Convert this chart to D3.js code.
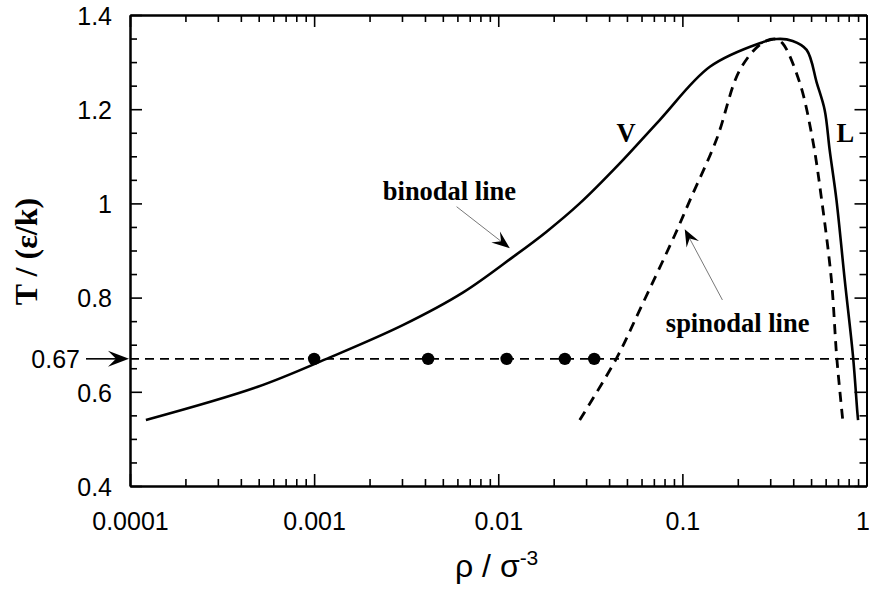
<!DOCTYPE html>
<html>
<head>
<meta charset="utf-8">
<script src="https://cdn.jsdelivr.net/npm/d3@7"></script>
<style>
  html, body { margin: 0; padding: 0; background: #fff; }
  svg { display: block; }
</style>
</head>
<body>
<svg id="chart" width="869" height="589"></svg>
<script>
// ---------------- data ----------------
const xMajor = [0.0001, 0.001, 0.01, 0.1, 1];
const xTickLabels = ["0.0001", "0.001", "0.01", "0.1", "1"];
const yMajor = [0.4, 0.6, 0.8, 1.0, 1.2, 1.4];
const yTickLabels = ["0.4", "0.6", "0.8", "1", "1.2", "1.4"];

// binodal (coexistence) curve: vapour branch -> critical point -> liquid branch
const binodalRho = [0.000122, 0.00049, 0.00122, 0.00305, 0.00645, 0.0121, 0.0183, 0.0277, 0.0457, 0.0753, 0.141, 0.263, 0.326, 0.397, 0.473, 0.537, 0.593, 0.631, 0.687, 0.762, 0.845, 0.893, 0.90];
const binodalT   = [0.540,    0.610,   0.673,   0.742,   0.811,   0.887,  0.940,  1.000,  1.085,  1.177,  1.290, 1.340, 1.349, 1.345, 1.326, 1.256, 1.198, 1.113, 1.007, 0.837, 0.675, 0.554, 0.540];

// spinodal curve
const spinodalRho = [0.0277, 0.044, 0.0587, 0.091, 0.110, 0.153, 0.205, 0.27, 0.32, 0.35, 0.434, 0.51, 0.571, 0.645, 0.689, 0.743];
const spinodalT   = [0.540,  0.672, 0.774,  0.933, 1.007, 1.135, 1.283, 1.340, 1.349, 1.340, 1.256, 1.135, 1.007, 0.837, 0.674, 0.540];

// isotherm T = 0.67 with state points
const isothermT = 0.67;
const dotRho = [0.001, 0.00416, 0.0111, 0.023, 0.0332];

// ---------------- layout ----------------
const svg = d3.select("#chart");
const W = 869, H = 589;
const m = { left: 130, right: 2.5, top: 15, bottom: 103 };

const x = d3.scaleLog().domain([0.0001, 1]).range([m.left, W - m.right]);
const y = d3.scaleLinear().domain([0.4, 1.4]).range([H - m.bottom, m.top]);

const xMinor = [];
[0.0001, 0.001, 0.01, 0.1].forEach(d => { for (let k = 2; k <= 9; k++) xMinor.push(k * d); });
const yMinor = [];
for (let i = 1; i < 20; i++) { if (i % 4 !== 0) yMinor.push(+(0.4 + i * 0.05).toFixed(2)); }

const tickFont = "'Liberation Sans', Arial, Helvetica, sans-serif";
const serif = "'Liberation Serif', 'Times New Roman', serif";

const MAJ = 12, MIN = 7;

function styleAxis(g) {
  g.select(".domain").attr("stroke", "#000").attr("stroke-width", 2);
  g.selectAll(".tick line").attr("stroke", "#000").attr("stroke-width", 1.6);
  g.selectAll("text").attr("fill", "#000").style("font-family", tickFont).style("font-size", "25px");
}

// bottom axis
const gx = svg.append("g").attr("transform", `translate(0,${y(0.4)})`)
  .call(d3.axisBottom(x).tickValues(xMajor).tickSize(-MAJ).tickSizeOuter(0).tickPadding(26)
    .tickFormat((d, i) => xTickLabels[i]));
styleAxis(gx);
// keep the rightmost label inside the window
gx.selectAll(".tick text").filter(d => d === 1).attr("x", -4);
svg.append("g").attr("transform", `translate(0,${y(0.4)})`)
  .call(d3.axisBottom(x).tickValues(xMinor).tickSize(-MIN).tickSizeOuter(0).tickFormat(""))
  .call(styleAxis);
// top axis
svg.append("g").attr("transform", `translate(0,${y(1.4)})`)
  .call(d3.axisTop(x).tickValues(xMajor).tickSize(-MAJ).tickSizeOuter(0).tickFormat(""))
  .call(styleAxis);
svg.append("g").attr("transform", `translate(0,${y(1.4)})`)
  .call(d3.axisTop(x).tickValues(xMinor).tickSize(-MIN).tickSizeOuter(0).tickFormat(""))
  .call(styleAxis);
// left axis
const gy = svg.append("g").attr("transform", `translate(${x(0.0001)},0)`)
  .call(d3.axisLeft(y).tickValues(yMajor).tickSize(-MAJ).tickSizeOuter(0).tickPadding(18)
    .tickFormat((d, i) => yTickLabels[i]));
styleAxis(gy);
gy.selectAll("text").attr("dy", "0.37em");
svg.append("g").attr("transform", `translate(${x(0.0001)},0)`)
  .call(d3.axisLeft(y).tickValues(yMinor).tickSize(-MIN).tickSizeOuter(0).tickFormat(""))
  .call(styleAxis);
// right axis
svg.append("g").attr("transform", `translate(${x(1)},0)`)
  .call(d3.axisRight(y).tickValues(yMajor).tickSize(-MAJ).tickSizeOuter(0).tickFormat(""))
  .call(styleAxis);
svg.append("g").attr("transform", `translate(${x(1)},0)`)
  .call(d3.axisRight(y).tickValues(yMinor).tickSize(-MIN).tickSizeOuter(0).tickFormat(""))
  .call(styleAxis);

// ---------------- isotherm ----------------
svg.append("line")
  .attr("x1", x(0.0001)).attr("x2", x(1))
  .attr("y1", y(isothermT)).attr("y2", y(isothermT))
  .attr("stroke", "#000").attr("stroke-width", 1.6)
  .attr("stroke-dasharray", "9,6");

// ---------------- curves ----------------
const line = d3.line().x(d => x(d[0])).y(d => y(d[1])).curve(d3.curveCatmullRom.alpha(0.5));

svg.append("path")
  .datum(binodalRho.map((r, i) => [r, binodalT[i]]))
  .attr("d", line).attr("fill", "none").attr("stroke", "#000").attr("stroke-width", 2.6)
  .attr("stroke-linejoin", "round");

svg.append("path")
  .datum(spinodalRho.map((r, i) => [r, spinodalT[i]]))
  .attr("d", line).attr("fill", "none").attr("stroke", "#000").attr("stroke-width", 2.8)
  .attr("stroke-dasharray", "10,7");

// state points
svg.selectAll("circle.dot").data(dotRho).enter().append("circle")
  .attr("class", "dot").attr("cx", d => x(d)).attr("cy", y(isothermT)).attr("r", 6.2)
  .attr("fill", "#000");

// ---------------- arrows ----------------
function arrow(x0, y0, x1, y1, L, Wd, lw, color) {
  const dx = x1 - x0, dy = y1 - y0, len = Math.hypot(dx, dy);
  const ux = dx / len, uy = dy / len, nx = -uy, ny = ux;
  const notch = L * 0.62;
  svg.append("line").attr("x1", x0).attr("y1", y0)
    .attr("x2", x1 - ux * notch).attr("y2", y1 - uy * notch)
    .attr("stroke", color).attr("stroke-width", lw);
  const p = [
    [x1, y1],
    [x1 - ux * L + nx * Wd, y1 - uy * L + ny * Wd],
    [x1 - ux * notch, y1 - uy * notch],
    [x1 - ux * L - nx * Wd, y1 - uy * L - ny * Wd]
  ];
  svg.append("path").attr("d", "M" + p.map(q => q.join(",")).join("L") + "Z").attr("fill", "#000");
}

// 0.67 marker arrow on the left
arrow(86, y(isothermT), x(0.0001) - 1, y(isothermT), 21, 8, 1.6, "#000");
// binodal label arrow
arrow(x(0.00594), y(0.993), x(0.01156), y(0.905), 18, 7, 0.8, "#555");
// spinodal label arrow
arrow(x(0.165), y(0.795), x(0.103), y(0.945), 17, 7, 0.8, "#555");

// ---------------- labels ----------------
svg.append("text").attr("x", 80).attr("y", y(isothermT)).attr("dy", "0.37em")
  .attr("text-anchor", "end").style("font-family", tickFont).style("font-size", "25px")
  .text("0.67");

function ann(txt, rx, ty) {
  svg.append("text").attr("x", x(rx)).attr("y", y(ty))
    .style("font-family", serif).style("font-weight", "bold").style("font-size", "26.5px")
    .text(txt);
}
ann("binodal line", 0.00236, 1.007);
ann("spinodal line", 0.0813, 0.728);
ann("V", 0.0439, 1.131);
ann("L", 0.687, 1.131);

// axis titles
svg.append("text")
  .attr("transform", `translate(37,${(y(0.4) + y(1.4)) / 2 + 1}) rotate(-90)`)
  .attr("text-anchor", "middle")
  .style("font-family", serif).style("font-weight", "bold").style("font-size", "32px")
  .text("T / (ε/k)");

const xt = svg.append("text").attr("x", 455).attr("y", 577)
  .style("font-family", tickFont).style("font-size", "32px");
xt.append("tspan").text("ρ / σ");
xt.append("tspan").attr("dy", -12).style("font-size", "21px").text("-3");
</script>
</body>
</html>
